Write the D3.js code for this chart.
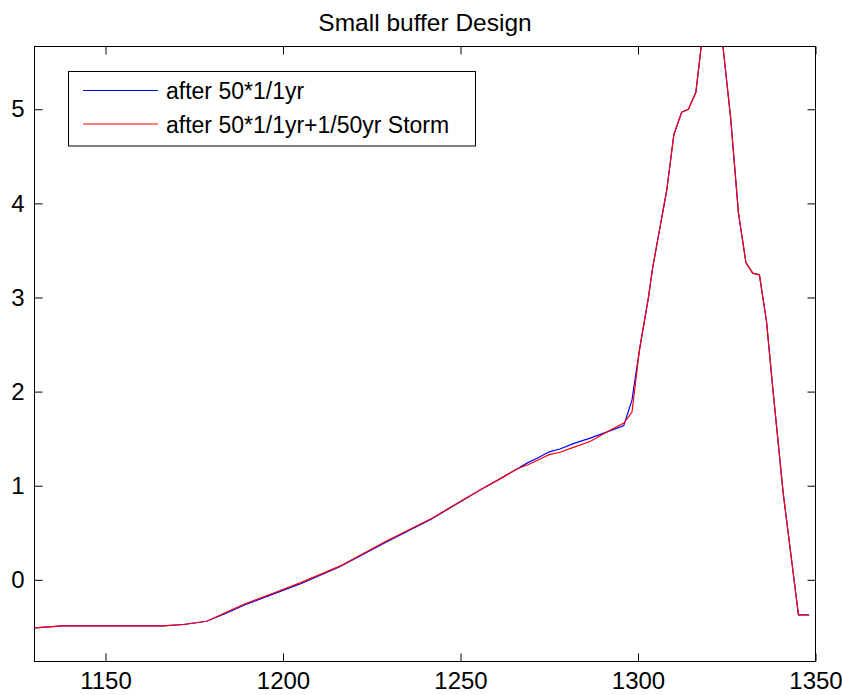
<!DOCTYPE html>
<html>
<head>
<meta charset="utf-8">
<script src="https://cdn.jsdelivr.net/npm/d3@7"></script>
<style>
    body { margin: 0; background: #fff; }
    svg { display: block; font-family: "Liberation Sans", Arial, sans-serif; }
</style>
</head>
<body>
<svg id="chart" width="842" height="695"></svg>
<script>
// cross-shore distance (m) shared by both profiles
var station = [1130, 1138, 1150, 1166, 1172, 1178.5, 1184, 1189, 1197, 1205, 1216, 1229, 1242, 1250,
    1256, 1261, 1266, 1269, 1272, 1275, 1278, 1282, 1286.5, 1291.5, 1296, 1298.3, 1300.4, 1302.9,
    1304.1, 1308.1, 1310.1, 1312.3, 1314.2, 1316.3, 1321, 1326.1, 1328.3, 1330.4, 1332.3, 1334.2,
    1336.2, 1338.1, 1340.9, 1345.2, 1348.2];

// profile after 50 yearly events
var after50yr = [-0.51, -0.49, -0.49, -0.49, -0.475, -0.44, -0.355, -0.27, -0.155, -0.04, 0.14, 0.40, 0.65, 0.83,
    0.965, 1.07, 1.18, 1.245, 1.30, 1.36, 1.39, 1.45, 1.505, 1.575, 1.64, 1.91, 2.44, 2.99,
    3.31, 4.14, 4.73, 4.97, 5.00, 5.18, 6.7, 4.906, 3.897, 3.372, 3.259, 3.241,
    2.745, 1.984, 0.921, -0.372, -0.372];

// same, plus one 1/50yr storm
var after50yrStorm = [-0.51, -0.49, -0.49, -0.49, -0.475, -0.44, -0.345, -0.26, -0.145, -0.03, 0.145, 0.41, 0.655, 0.835,
    0.965, 1.07, 1.18, 1.222, 1.275, 1.33, 1.355, 1.41, 1.47, 1.575, 1.665, 1.78, 2.44, 2.99,
    3.31, 4.14, 4.73, 4.97, 5.00, 5.18, 6.7, 4.906, 3.897, 3.372, 3.259, 3.241,
    2.745, 1.984, 0.921, -0.372, -0.372];

var xTicks = [1150, 1200, 1250, 1300, 1350];
var yTicks = [0, 1, 2, 3, 4, 5];
var seriesNames = ["after 50*1/1yr", "after 50*1/1yr+1/50yr Storm"];
var seriesColors = ["#0000ff", "#ff0000"];

(function(){
    var svg = d3.select("#chart");
    var left = 34.5, right = 815.5, top = 46.5, bottom = 661.5;
    var tickLen = 8;

    var x = d3.scaleLinear().domain([1130, 1350]).range([left, right]);
    var y = d3.scaleLinear().domain([-0.868, 5.667]).range([bottom, top]);

    svg.append("defs").append("clipPath").attr("id", "plot-clip")
        .append("rect")
        .attr("x", left).attr("y", top)
        .attr("width", right - left).attr("height", bottom - top);

    // title
    svg.append("text")
        .attr("x", (left + right) / 2)
        .attr("y", 31)
        .attr("text-anchor", "middle")
        .style("font-size", "24.5px")
        .text("Small buffer Design");

    // axes: ticks point inward on all four sides
    var gBottom = svg.append("g").attr("transform", "translate(0," + bottom + ")")
        .call(d3.axisBottom(x).tickValues(xTicks).tickSize(-tickLen).tickPadding(10.5).tickFormat(d3.format("d")));
    var gTop = svg.append("g").attr("transform", "translate(0," + top + ")")
        .call(d3.axisTop(x).tickValues(xTicks).tickSize(-tickLen).tickFormat(""));
    var gLeft = svg.append("g").attr("transform", "translate(" + left + ",0)")
        .call(d3.axisLeft(y).tickValues(yTicks).tickSize(-tickLen).tickPadding(10).tickFormat(d3.format("d")));
    var gRight = svg.append("g").attr("transform", "translate(" + right + ",0)")
        .call(d3.axisRight(y).tickValues(yTicks).tickSize(-tickLen).tickFormat(""));

    [gBottom, gTop, gLeft, gRight].forEach(function(g){
        g.select(".domain").remove();
        g.selectAll("line").attr("stroke", "#000");
        g.selectAll("text").attr("fill", "#000").style("font-size", "24px")
            .style("font-family", "\"Liberation Sans\", Arial, sans-serif");
    });

    svg.append("rect")
        .attr("x", left).attr("y", top)
        .attr("width", right - left).attr("height", bottom - top)
        .attr("fill", "none").attr("stroke", "#000").attr("stroke-width", 1);

    // profiles
    var line = d3.line()
        .x(function(d){ return x(d[0]); })
        .y(function(d){ return y(d[1]); });

    var series = [after50yr, after50yrStorm];
    var plot = svg.append("g").attr("clip-path", "url(#plot-clip)");
    series.forEach(function(vals, i){
        plot.append("path")
            .datum(d3.zip(station, vals))
            .attr("d", line)
            .attr("fill", "none")
            .attr("stroke", seriesColors[i])
            .attr("stroke-width", 1.2);
    });

    // legend
    var legend = svg.append("g");
    legend.append("rect")
        .attr("x", 68.5).attr("y", 71.5)
        .attr("width", 407).attr("height", 74.5)
        .attr("fill", "#fff").attr("stroke", "#000");
    seriesNames.forEach(function(name, i){
        var ly = 90.5 + i * 33.5;
        legend.append("line")
            .attr("x1", 83).attr("x2", 158)
            .attr("y1", ly).attr("y2", ly)
            .attr("stroke", seriesColors[i]).attr("stroke-width", 1.2);
        legend.append("text")
            .attr("x", 166)
            .attr("y", ly + 8.5)
            .style("font-size", "23px")
            .text(name);
    });
})();
</script>
</body>
</html>
